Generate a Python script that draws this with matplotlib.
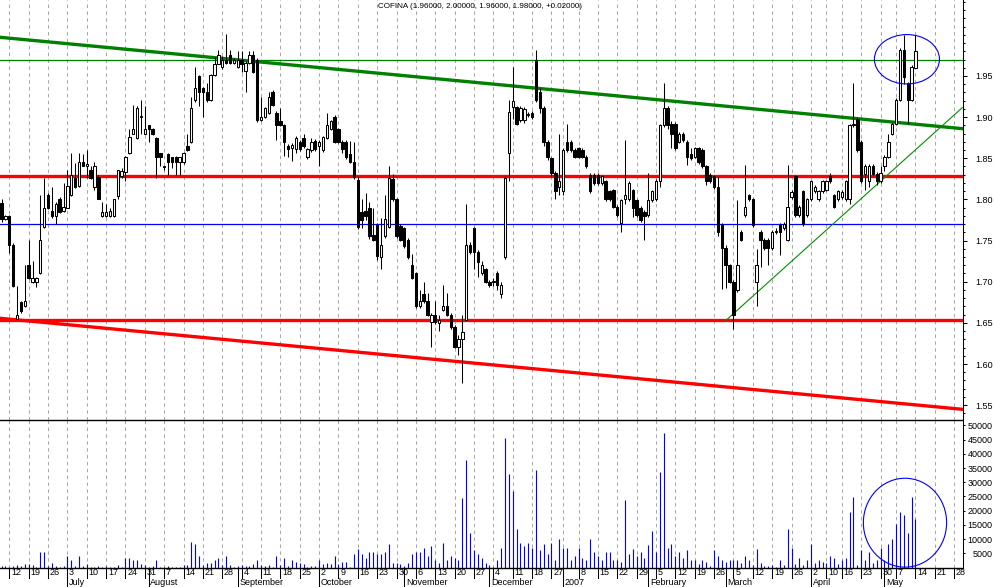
import matplotlib
matplotlib.use("Agg")
import matplotlib.pyplot as plt
from matplotlib.patches import Ellipse
from matplotlib.transforms import blended_transform_factory
import numpy as np
import pandas as pd

plt.rcParams['font.family'] = ['Liberation Sans', 'DejaVu Sans']

# trading calendar (Euronext Lisbon holidays skipped)
holidays = ["2006-12-25", "2006-12-26", "2007-01-01", "2007-04-06", "2007-04-09", "2007-05-01"]
cal = pd.bdate_range("2006-06-08", "2007-06-15")
days = cal[~cal.isin(pd.to_datetime(holidays))][:249]

title = "COFINA (1.96000, 2.00000, 1.96000, 1.98000, +0.02000)"

opens = [
    1.796, 1.776, 1.780, 1.745, 1.655, 1.675, 1.670, 1.720, 1.700, 1.700,
    1.710, 1.766, 1.805, 1.786, 1.780, 1.800, 1.786, 1.790, 1.805, 1.826,
    1.816, 1.846, 1.841, 1.836, 1.815, 1.827, 1.780, 1.780, 1.780, 1.780,
    1.804, 1.828, 1.833, 1.856, 1.880, 1.875, 1.900, 1.880, 1.890, 1.885,
    1.875, 1.856, 1.839, 1.855, 1.851, 1.851, 1.846, 1.845, 1.865, 1.870,
    1.921, 1.950, 1.935, 1.931, 1.921, 1.951, 1.965, 1.961, 1.970, 1.975,
    1.966, 1.961, 1.970, 1.956, 1.966, 1.975, 1.970, 1.896, 1.900, 1.905,
    1.931, 1.905, 1.895, 1.890, 1.865, 1.862, 1.861, 1.870, 1.875, 1.851,
    1.860, 1.871, 1.865, 1.860, 1.875, 1.886, 1.900, 1.885, 1.870, 1.870,
    1.855, 1.846, 1.824, 1.785, 1.786, 1.790, 1.757, 1.769, 1.730, 1.755,
    1.766, 1.825, 1.800, 1.768, 1.765, 1.751, 1.720, 1.710, 1.670, 1.685,
    1.676, 1.651, 1.660, 1.650, 1.666, 1.671, 1.660, 1.645, 1.621, 1.630,
    1.654, 1.745, 1.765, 1.736, 1.710, 1.715, 1.700, 1.700, 1.710, 1.685,
    1.730, 1.856, 1.912, 1.912, 1.896, 1.896, 1.903, 1.905, 1.970, 1.931,
    1.911, 1.870, 1.850, 1.832, 1.815, 1.810, 1.870, 1.870, 1.860, 1.862,
    1.860, 1.852, 1.830, 1.830, 1.830, 1.820, 1.822, 1.810, 1.811, 1.791,
    1.771, 1.800, 1.800, 1.811, 1.799, 1.790, 1.785, 1.781, 1.799, 1.800,
    1.822, 1.890, 1.911, 1.892, 1.892, 1.870, 1.880, 1.870, 1.855, 1.852,
    1.862, 1.860, 1.840, 1.830, 1.828, 1.815, 1.769, 1.741, 1.720, 1.700,
    1.690, 1.761, 1.781, 1.805, 1.800, 1.700, 1.761, 1.751, 1.751, 1.741,
    1.760, 1.769, 1.765, 1.751, 1.803, 1.828, 1.781, 1.810, 1.781, 1.800,
    1.810, 1.800, 1.810, 1.812, 1.828, 1.805, 1.800, 1.803, 1.800, 1.800,
    1.890, 1.898, 1.870, 1.831, 1.822, 1.841, 1.831, 1.822, 1.841, 1.852,
    1.880, 1.892, 1.921, 1.982, 1.941, 1.921, 1.960]

highs = [
    1.800, 1.781, 1.781, 1.747, 1.695, 1.677, 1.720, 1.751, 1.725, 1.706,
    1.805, 1.826, 1.808, 1.815, 1.797, 1.803, 1.820, 1.836, 1.856, 1.844,
    1.856, 1.855, 1.860, 1.840, 1.845, 1.830, 1.797, 1.795, 1.790, 1.801,
    1.836, 1.838, 1.853, 1.886, 1.915, 1.913, 1.921, 1.913, 1.891, 1.887,
    1.876, 1.857, 1.841, 1.856, 1.852, 1.853, 1.852, 1.858, 1.880, 1.925,
    1.961, 1.951, 1.936, 1.942, 1.952, 1.973, 1.982, 1.974, 2.001, 1.982,
    1.972, 1.980, 1.980, 1.968, 1.980, 1.980, 1.972, 1.925, 1.912, 1.931,
    1.933, 1.907, 1.911, 1.892, 1.867, 1.868, 1.877, 1.872, 1.880, 1.862,
    1.875, 1.873, 1.872, 1.877, 1.905, 1.897, 1.902, 1.887, 1.872, 1.872,
    1.871, 1.870, 1.828, 1.800, 1.808, 1.797, 1.789, 1.771, 1.777, 1.805,
    1.841, 1.831, 1.802, 1.770, 1.767, 1.753, 1.734, 1.712, 1.690, 1.700,
    1.686, 1.662, 1.676, 1.660, 1.696, 1.686, 1.662, 1.647, 1.635, 1.660,
    1.795, 1.748, 1.767, 1.738, 1.725, 1.717, 1.702, 1.705, 1.713, 1.700,
    1.828, 1.921, 1.961, 1.914, 1.913, 1.912, 1.906, 1.907, 1.981, 1.935,
    1.913, 1.872, 1.852, 1.834, 1.880, 1.862, 1.892, 1.872, 1.862, 1.864,
    1.862, 1.854, 1.832, 1.832, 1.832, 1.830, 1.824, 1.812, 1.813, 1.793,
    1.800, 1.872, 1.822, 1.813, 1.801, 1.792, 1.787, 1.832, 1.812, 1.825,
    1.892, 1.941, 1.913, 1.895, 1.894, 1.882, 1.882, 1.872, 1.862, 1.864,
    1.864, 1.862, 1.842, 1.832, 1.830, 1.828, 1.771, 1.745, 1.722, 1.702,
    1.799, 1.763, 1.842, 1.807, 1.802, 1.740, 1.763, 1.753, 1.753, 1.763,
    1.765, 1.771, 1.772, 1.842, 1.811, 1.830, 1.793, 1.812, 1.802, 1.824,
    1.817, 1.812, 1.824, 1.824, 1.832, 1.807, 1.812, 1.811, 1.824, 1.892,
    1.941, 1.900, 1.872, 1.843, 1.843, 1.843, 1.833, 1.840, 1.854, 1.880,
    1.894, 1.923, 1.984, 2.000, 1.943, 1.963, 2.000]

lows = [
    1.772, 1.775, 1.735, 1.693, 1.655, 1.662, 1.669, 1.703, 1.699, 1.694,
    1.709, 1.765, 1.788, 1.778, 1.770, 1.783, 1.785, 1.789, 1.804, 1.814,
    1.815, 1.840, 1.826, 1.825, 1.812, 1.800, 1.779, 1.779, 1.779, 1.779,
    1.800, 1.826, 1.822, 1.855, 1.879, 1.874, 1.880, 1.879, 1.870, 1.878,
    1.826, 1.840, 1.836, 1.830, 1.838, 1.830, 1.830, 1.843, 1.859, 1.869,
    1.918, 1.913, 1.900, 1.918, 1.920, 1.950, 1.964, 1.958, 1.965, 1.964,
    1.964, 1.960, 1.955, 1.931, 1.964, 1.953, 1.894, 1.895, 1.899, 1.904,
    1.913, 1.872, 1.889, 1.853, 1.852, 1.847, 1.856, 1.859, 1.863, 1.849,
    1.858, 1.859, 1.841, 1.858, 1.873, 1.884, 1.868, 1.868, 1.856, 1.849,
    1.844, 1.825, 1.764, 1.765, 1.775, 1.752, 1.749, 1.726, 1.716, 1.753,
    1.765, 1.798, 1.753, 1.749, 1.741, 1.728, 1.703, 1.668, 1.668, 1.674,
    1.658, 1.621, 1.649, 1.640, 1.664, 1.658, 1.643, 1.619, 1.611, 1.577,
    1.652, 1.734, 1.716, 1.706, 1.708, 1.698, 1.694, 1.695, 1.690, 1.680,
    1.728, 1.822, 1.898, 1.890, 1.894, 1.893, 1.900, 1.898, 1.918, 1.905,
    1.865, 1.848, 1.828, 1.800, 1.805, 1.805, 1.858, 1.858, 1.850, 1.850,
    1.850, 1.838, 1.808, 1.818, 1.818, 1.818, 1.798, 1.798, 1.789, 1.779,
    1.761, 1.795, 1.798, 1.779, 1.779, 1.773, 1.751, 1.779, 1.797, 1.798,
    1.815, 1.888, 1.885, 1.862, 1.860, 1.868, 1.870, 1.842, 1.848, 1.850,
    1.843, 1.838, 1.818, 1.820, 1.813, 1.755, 1.691, 1.692, 1.698, 1.642,
    1.688, 1.749, 1.779, 1.798, 1.767, 1.670, 1.718, 1.739, 1.720, 1.739,
    1.758, 1.732, 1.763, 1.749, 1.801, 1.779, 1.779, 1.768, 1.779, 1.798,
    1.808, 1.798, 1.808, 1.810, 1.820, 1.789, 1.798, 1.801, 1.798, 1.795,
    1.888, 1.858, 1.820, 1.811, 1.815, 1.829, 1.818, 1.820, 1.835, 1.850,
    1.878, 1.890, 1.919, 1.940, 1.892, 1.919, 1.960]

closes = [
    1.776, 1.780, 1.745, 1.695, 1.660, 1.665, 1.677, 1.705, 1.705, 1.705,
    1.751, 1.790, 1.790, 1.780, 1.795, 1.785, 1.791, 1.816, 1.830, 1.815,
    1.846, 1.841, 1.843, 1.826, 1.841, 1.801, 1.785, 1.785, 1.786, 1.800,
    1.836, 1.835, 1.852, 1.876, 1.886, 1.911, 1.901, 1.886, 1.886, 1.880,
    1.851, 1.851, 1.840, 1.845, 1.846, 1.845, 1.851, 1.856, 1.860, 1.911,
    1.935, 1.930, 1.931, 1.921, 1.951, 1.965, 1.975, 1.970, 1.966, 1.966,
    1.970, 1.969, 1.965, 1.966, 1.975, 1.955, 1.896, 1.900, 1.911, 1.925,
    1.915, 1.890, 1.891, 1.870, 1.861, 1.866, 1.875, 1.861, 1.865, 1.861,
    1.870, 1.861, 1.870, 1.876, 1.890, 1.895, 1.870, 1.870, 1.861, 1.851,
    1.846, 1.827, 1.766, 1.775, 1.780, 1.755, 1.751, 1.731, 1.745, 1.776,
    1.826, 1.800, 1.755, 1.751, 1.743, 1.730, 1.705, 1.670, 1.676, 1.676,
    1.660, 1.660, 1.651, 1.653, 1.671, 1.660, 1.645, 1.621, 1.631, 1.639,
    1.745, 1.736, 1.736, 1.724, 1.720, 1.700, 1.696, 1.701, 1.696, 1.696,
    1.826, 1.906, 1.920, 1.892, 1.911, 1.910, 1.904, 1.900, 1.921, 1.911,
    1.870, 1.852, 1.832, 1.810, 1.822, 1.860, 1.860, 1.860, 1.852, 1.852,
    1.852, 1.840, 1.810, 1.820, 1.820, 1.828, 1.800, 1.800, 1.791, 1.781,
    1.799, 1.805, 1.820, 1.790, 1.781, 1.775, 1.780, 1.799, 1.810, 1.822,
    1.890, 1.911, 1.890, 1.880, 1.862, 1.880, 1.872, 1.852, 1.850, 1.862,
    1.845, 1.840, 1.822, 1.822, 1.815, 1.761, 1.741, 1.720, 1.700, 1.660,
    1.720, 1.751, 1.791, 1.800, 1.769, 1.720, 1.751, 1.741, 1.741, 1.761,
    1.762, 1.760, 1.770, 1.791, 1.809, 1.781, 1.791, 1.770, 1.800, 1.822,
    1.815, 1.810, 1.822, 1.822, 1.822, 1.791, 1.810, 1.809, 1.822, 1.890,
    1.892, 1.860, 1.822, 1.841, 1.841, 1.831, 1.822, 1.832, 1.852, 1.870,
    1.892, 1.921, 1.982, 1.949, 1.921, 1.961, 1.980]

volume = [
    700, 470, 350, 700, 1050, 700, 1400, 1400, 1050, 300,
    5300, 5600, 700, 1760, 700, 200, 700, 3900, 2500, 700,
    4200, 700, 1400, 350, 200, 700, 350, 700, 150, 150,
    1050, 350, 3500, 3200, 2500, 2500, 1400, 1050, 350, 700,
    2800, 350, 150, 470, 350, 350, 350, 1050, 1050, 9150,
    8450, 3900, 1050, 1760, 1760, 2500, 3200, 1050, 4200, 1050,
    350, 700, 1050, 700, 700, 1400, 2800, 1050, 700, 1050,
    350, 3900, 1050, 3200, 700, 2500, 2100, 1760, 1400, 150,
    470, 700, 2500, 1400, 1760, 1400, 4200, 1400, 2100, 2100,
    350, 4600, 6340, 4900, 3200, 5300, 5300, 4900, 4600, 5600,
    8450, 1760, 1760, 1400, 700, 1760, 4600, 5300, 5600, 6700,
    4200, 7400, 2800, 1760, 8800, 2500, 4200, 3200, 2800, 24300,
    38000, 12000, 6000, 4900, 3200, 1760, 1050, 350, 2800, 6800,
    45550, 32750, 27100, 13400, 8800, 7400, 8800, 7000, 34200, 6000,
    8100, 4600, 8800, 2500, 10200, 6700, 7000, 2800, 4200, 7000,
    3200, 2800, 9900, 5600, 3900, 2500, 5300, 5300, 2500, 2800,
    2100, 23600, 4900, 6340, 3900, 5300, 3500, 7750, 13000, 5600,
    33800, 47300, 7000, 8450, 3900, 5300, 3200, 6000, 2500, 2500,
    1400, 2500, 2100, 700, 6000, 3900, 2500, 2100, 2500, 2500,
    2500, 1760, 4200, 2500, 1050, 6340, 1760, 700, 700, 1050,
    350, 2800, 1050, 13400, 7000, 1400, 3500, 1050, 2500, 8450,
    1760, 2500, 2100, 1760, 3900, 3200, 1400, 2800, 3200, 19400,
    24650, 1000, 6000, 2800, 5300, 1760, 2500, 6700, 2800, 8100,
    9900, 15150, 19700, 18650, 12000, 24650, 17250]

# drawn studies (levels and trend lines)
green_level = 1.970
red_upper = 1.828
blue_level = 1.770
red_lower = 1.654
green_trend = ([-0.4, 248.1], [1.997, 1.886])
red_trend = ([-0.4, 248.1], [1.6556, 1.545])
up_trend = ([186.7, 248.1], [1.6515, 1.9115])

month_labels = ["July", "August", "September", "October", "November", "December",
                "2007", "February", "March", "April", "May"]

W, H = 994, 587
fig = plt.figure(figsize=(W / 100, H / 100), dpi=100)
axv = fig.add_axes([0, 1 - 567.5 / H, 962.5 / W, 148 / H])
ax = fig.add_axes([0, 1 - 419.5 / H, 962.5 / W, 419.5 / H])
ax.patch.set_visible(False)
axv.patch.set_visible(False)

x = np.arange(len(opens))
o = np.array(opens); h = np.array(highs); l = np.array(lows); c = np.array(closes)
up = c >= o
lo = np.minimum(o, c)
hgt = np.maximum(np.abs(c - o), 0.0012)

week_starts = [i for i in range(1, len(days)) if days[i].weekday() < days[i - 1].weekday()]
month_starts = [i for i in range(1, len(days)) if days[i].month != days[i - 1].month]

grid_kw = dict(color='#a8a8a8', lw=0.75, ls=(0, (3.3, 3.3)), zorder=0)
for i in week_starts:
    ax.axvline(i, **grid_kw)
    axv.axvline(i, **grid_kw)

# studies
ax.axhline(green_level, color='#008000', lw=0.9, zorder=2)
ax.axhline(red_upper, color='#ff0000', lw=2.4, zorder=2)
ax.axhline(blue_level, color='#0000ff', lw=0.9, zorder=2)
ax.axhline(red_lower, color='#ff0000', lw=2.4, zorder=2)
ax.plot(*green_trend, color='#008000', lw=2.4, zorder=2)
ax.plot(*red_trend, color='#ff0000', lw=2.4, zorder=2)
ax.plot(*up_trend, color='#009000', lw=0.8, zorder=2)

# candles
ax.vlines(x, l, h, color='black', lw=0.75, zorder=3)
ax.bar(x[up], hgt[up], bottom=lo[up], width=0.62, color='white',
       edgecolor='black', lw=0.75, zorder=4)
ax.bar(x[~up], hgt[~up], bottom=lo[~up], width=0.62, color='black',
       edgecolor='black', lw=0.75, zorder=4)

ax.add_patch(Ellipse((233.8, 1.9703), 16.8, 0.06, fill=False,
                     edgecolor='#0000ff', lw=0.8, zorder=5))

ax.set_xlim(-0.4, 248.15)
ax.set_ylim(1.5326, 2.0423)
ax.yaxis.tick_right()
ax.set_yticks([1.55, 1.60, 1.65, 1.70, 1.75, 1.80, 1.85, 1.90, 1.95])
ax.set_yticklabels([f"{v:.2f}" for v in ax.get_yticks()])
ax.set_yticks(np.arange(1.54, 2.045, 0.01), minor=True)
ax.tick_params(axis='y', which='major', direction='out', length=3, width=0.75,
               pad=18.6, labelsize=6.5, colors='black')
ax.tick_params(axis='y', which='minor', direction='out', length=1.5, width=0.75)
for lab in ax.get_yticklabels():
    lab.set_horizontalalignment('right')
ax.tick_params(axis='x', bottom=False, labelbottom=False)
for s in ['top', 'left']:
    ax.spines[s].set_visible(False)
ax.spines['right'].set_linewidth(0.75)
ax.spines['bottom'].set_linewidth(1.0)
ax.spines['bottom'].set_color('black')

# volume
axv.vlines(x, 0, volume, color='#0000ff', lw=0.8, zorder=3)
axv.add_patch(Ellipse((233.3, 15775), 21.5, 31300, fill=False,
                      edgecolor='#0000ff', lw=0.8, zorder=5))
axv.set_xlim(-0.4, 248.15)
axv.set_ylim(0, 52110)
axv.yaxis.tick_right()
vt = list(range(5000, 50001, 5000))
axv.set_yticks(vt)
axv.set_yticklabels([str(v) for v in vt])
axv.tick_params(axis='y', direction='out', length=1.5, width=0.75, pad=20.1,
                labelsize=6.5)
for lab in axv.get_yticklabels():
    lab.set_horizontalalignment('right')
axv.tick_params(axis='x', bottom=False, labelbottom=False)
for s in ['top', 'left']:
    axv.spines[s].set_visible(False)
axv.spines['right'].set_linewidth(0.75)
axv.spines['bottom'].set_linewidth(1.0)

# date scale under the volume panel
tr = blended_transform_factory(axv.transData, axv.transAxes)
r1 = 10 / 148
r2 = 20 / 148
for i in week_starts:
    axv.plot([i, i], [0, -r1], transform=tr, clip_on=False, color='black', lw=0.75)
    if days[i].year == days[i - 1].year:
        axv.text(i + 0.45, -0.034, str(days[i].day), transform=tr, ha='left',
                 va='center', fontsize=6.5, clip_on=False)
for i, name in zip(month_starts, month_labels):
    axv.plot([i, i], [0, -r2], transform=tr, clip_on=False, color='black', lw=0.75)
    axv.text(i + 0.45, -0.101, name, transform=tr, ha='left', va='center',
             fontsize=6.5, clip_on=False)

fig.text(480 / W, 1 - 7 / H, title, ha='center', va='center', fontsize=5.8)

fig.savefig("out.png", dpi=100, facecolor='white')
